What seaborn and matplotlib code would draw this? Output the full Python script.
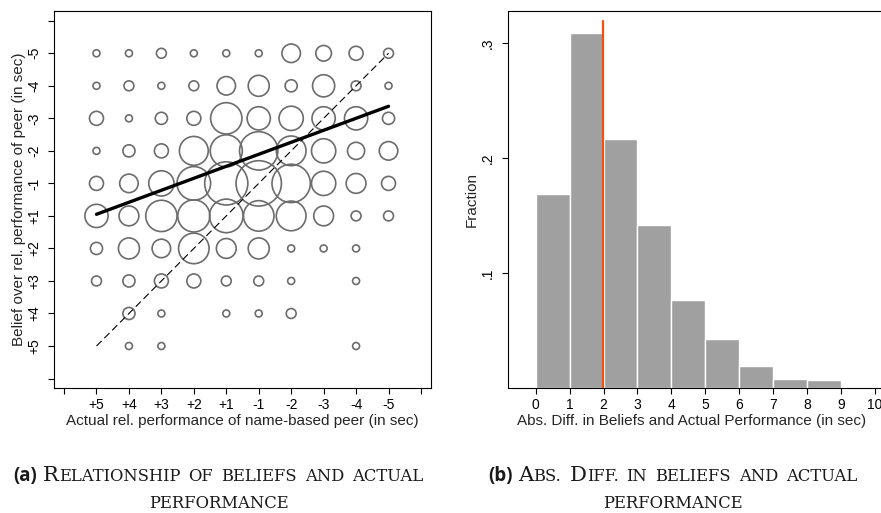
import numpy as np
import pandas as pd
import matplotlib
matplotlib.use("Agg")
import matplotlib.pyplot as plt
import seaborn as sns

# ---------------------------------------------------------------------------
# Panel (a): number of subjects for each (actual, believed) relative performance
# ---------------------------------------------------------------------------
perf_labels = ["+5", "+4", "+3", "+2", "+1", "-1", "-2", "-3", "-4", "-5"]
# belief rows listed top (-5) to bottom (+5); columns follow perf_labels
belief_rows = ["-5", "-4", "-3", "-2", "-1", "+1", "+2", "+3", "+4", "+5"]
row_m5 = [1, 1, 2, 1, 1, 1, 7, 5, 4, 2]
row_m4 = [1, 2, 1, 2, 7, 9, 3, 10, 2, 1]
row_m3 = [4, 1, 3, 4, 20, 11, 12, 11, 11, 3]
row_m2 = [1, 3, 4, 17, 21, 30, 18, 12, 6, 7]
row_m1 = [4, 7, 13, 23, 38, 42, 30, 12, 8, 4]
row_p1 = [11, 8, 20, 21, 23, 19, 18, 8, 2, 2]
row_p2 = [3, 9, 7, 19, 8, 9, 1, 1, 1, 0]
row_p3 = [2, 3, 4, 4, 2, 2, 1, 0, 1, 0]
row_p4 = [0, 3, 1, 0, 1, 1, 2, 0, 0, 0]
row_p5 = [0, 1, 1, 0, 0, 0, 0, 0, 1, 0]
count_rows = [row_m5, row_m4, row_m3, row_m2, row_m1,
              row_p1, row_p2, row_p3, row_p4, row_p5]

# linear fit of beliefs on actual performance (axis positions)
fit_x = [1, 10]
fit_y = [5.05, 8.37]
# 45-degree line: belief equals actual
diag_x = [1, 10]
diag_y = [1, 10]

# ---------------------------------------------------------------------------
# Panel (b): absolute difference between beliefs and actual performance
# ---------------------------------------------------------------------------
bin_edges = [0, 1, 2, 3, 4, 5, 6, 7, 8, 9]
fraction = [0.169, 0.309, 0.217, 0.142, 0.0765, 0.043, 0.0197, 0.0084, 0.0072]
mean_abs_diff = 1.98
hist_xticks = [0, 1, 2, 3, 4, 5, 6, 7, 8, 9, 10]
hist_yticks = [0.1, 0.2, 0.3]
hist_ylabels = [".1", ".2", ".3"]

# ---------------------------------------------------------------------------
sns.set_theme(style="ticks")
plt.rcParams["font.family"] = ["Liberation Sans", "DejaVu Sans"]
plt.rcParams["axes.edgecolor"] = "black"
plt.rcParams["axes.linewidth"] = 0.8

W, H = 881, 513
fig = plt.figure(figsize=(W / 100, H / 100), dpi=100)
fig.patch.set_facecolor("white")


def px_axes(left, top, right, bottom):
    return fig.add_axes([left / W, 1 - bottom / H, (right - left) / W, (bottom - top) / H])


ax1 = px_axes(54.3, 11, 430.7, 388.3)
ax2 = px_axes(508.3, 11, 901.8, 388.3)
AX_H = 388.3 - 11

# ---- bubbles -------------------------------------------------------------
pos = {lab: i + 1 for i, lab in enumerate(perf_labels)}
recs = []
for blab, row in zip(belief_rows, count_rows):
    for alab, c in zip(perf_labels, row):
        if c > 0:
            recs.append({"actual": pos[alab], "belief": pos[blab], "count": c})
df = pd.DataFrame(recs)

cmax = df["count"].max()
unit_area = 25.4  # marker area (pt^2) for a single observation
sns.scatterplot(data=df, x="actual", y="belief", size="count",
                sizes=(0, unit_area * cmax), size_norm=(0, cmax),
                facecolor="none", edgecolor="#6c6c6c", linewidth=1.2,
                legend=False, ax=ax1, zorder=2)
sns.lineplot(x=diag_x, y=diag_y, color="black", linewidth=0.8,
             ax=ax1, zorder=3).lines[-1].set_dashes((6.5, 3.5))
sns.lineplot(x=fit_x, y=fit_y, color="black", linewidth=2.4, ax=ax1, zorder=4)

ax1.set_xlim(-0.3, 11.3)
ax1.set_ylim(-0.3, 11.3)
ticks = list(range(0, 12))
ax1.set_xticks(ticks)
ax1.set_xticklabels([""] + perf_labels + [""])
ax1.set_yticks(ticks)
ax1.set_yticklabels([""] + perf_labels + [""])
ax1.set_xlabel("Actual rel. performance of name-based peer (in sec)", fontsize=11)
ax1.set_ylabel("Belief over rel. performance of peer (in sec)", fontsize=11)
ax1.xaxis.set_label_coords(0.5, -(414 - 388.3) / AX_H)
ax1.yaxis.set_label_coords(-0.074, 0.5)

# ---- histogram -----------------------------------------------------------
bin_mid = [e + 0.5 for e in bin_edges[:-1]]
sns.histplot(x=bin_mid, weights=fraction, bins=bin_edges, stat="count",
             color="#a0a0a0", edgecolor="white", linewidth=1.0, alpha=1.0,
             ax=ax2)
ax2.plot([mean_abs_diff, mean_abs_diff], [0, 0.319], color="#f5500f",
         linewidth=1.6, zorder=5)
ax2.set_xlim(-0.81, 10.8)
ax2.set_ylim(0, 0.328)
ax2.set_xticks(hist_xticks)
ax2.set_xticklabels([str(t) for t in hist_xticks])
ax2.set_yticks(hist_yticks)
ax2.set_yticklabels(hist_ylabels)
ax2.set_xlabel("Abs. Diff. in Beliefs and Actual Performance (in sec)", fontsize=11)
ax2.set_ylabel("Fraction", fontsize=11)
ax2.xaxis.set_label_coords((692 - 508.3) / (901.8 - 508.3), -(414 - 388.3) / AX_H)
ax2.yaxis.set_label_coords(-0.074, 0.5)

for ax in (ax1, ax2):
    for s in ax.spines.values():
        s.set_visible(True)
        s.set_color("black")
        s.set_linewidth(0.8)
    ax.grid(False)
    ax.set_facecolor("white")
    ax.tick_params(axis="both", direction="out", length=4.5, width=0.8,
                   color="black", labelsize=10, labelcolor="black")
    ax.tick_params(axis="x", pad=2.2)
    ax.tick_params(axis="y", pad=5, labelrotation=90)
    for lab in ax.get_yticklabels():
        lab.set_va("center")

# ---- sub-figure captions in small caps ---------------------------------------
renderer = fig.canvas.get_renderer()
label_font = dict(family=["Open Sans", "DejaVu Sans"], weight="bold", size=13.5)
cap_font = dict(family=["DejaVu Serif"], size=15.2)
sc_font = dict(family=["DejaVu Serif"], size=11.8)


def caption_line(segments, x_center, baseline):
    """segments: list of (text, kind, gap_after_px)."""
    items = []
    for text, kind, gap in segments:
        font = {"label": label_font, "cap": cap_font, "sc": sc_font}[kind]
        t = fig.text(0, 1 - baseline / H, text, ha="left", va="baseline",
                     color="#1a1a1a", **font)
        w = t.get_window_extent(renderer).width
        items.append((t, w, gap))
    total = sum(w + g for _, w, g in items) - items[-1][2]
    x = x_center - total / 2
    for t, w, g in items:
        t.set_x(x / W)
        x += w + g


WG = 8  # gap between words
caption_line([("(a)", "label", 5), ("R", "cap", 0.5), ("ELATIONSHIP", "sc", WG),
              ("OF", "sc", WG), ("BELIEFS", "sc", WG), ("AND", "sc", WG),
              ("ACTUAL", "sc", 0)], 218.5, 481)
caption_line([("PERFORMANCE", "sc", 0)], 218.5, 508)
caption_line([("(b)", "label", 5), ("A", "cap", 0.5), ("BS.", "sc", WG),
              ("D", "cap", 0.5), ("IFF.", "sc", WG), ("IN", "sc", WG),
              ("BELIEFS", "sc", WG), ("AND", "sc", WG), ("ACTUAL", "sc", 0)],
             673, 481)
caption_line([("PERFORMANCE", "sc", 0)], 673, 508)

fig.savefig("out.png", dpi=100, facecolor="white")
